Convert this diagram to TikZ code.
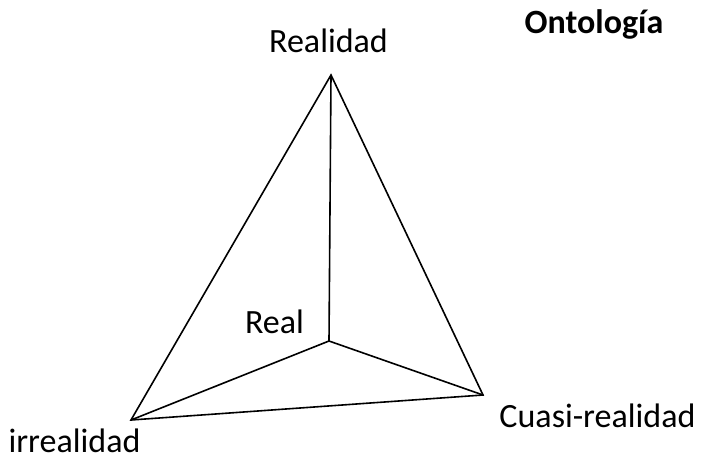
\documentclass[tikz,border=0pt]{standalone}
\usepackage{fontspec}
\setmainfont{Carlito}
\usetikzlibrary{positioning}

\begin{document}
\begin{tikzpicture}[x=1pt, y=-1pt,
  lab/.style={font=\fontsize{34}{40}\selectfont, anchor=base, inner sep=0pt},
  edge/.style={line width=1.6pt, line join=miter}]
\useasboundingbox (0,0) rectangle (701,463);
% corners of the tetrahedron
\coordinate (top) at (331,75);
\coordinate (left) at (131,420);
\coordinate (right) at (483,395);
\coordinate (mid) at (329,341);
% labels
\node[lab] (realidad) at (328.5,52) {Realidad};
\node[lab, font=\fontsize{34}{40}\selectfont\bfseries] (onto) at (594,33) {Ontología};
\node[lab] (real) at (274.5,333) {Real};
\node[lab] (cuasi) at (597.5,427) {Cuasi-realidad};
\node[lab, text depth=0pt] (irreal) at (74.5,452) {irrealidad};
% edges
\draw[edge] (top) -- (left) -- (right) -- cycle;
\draw[edge] (top) -- (mid);
\draw[edge] (left) -- (mid);
\draw[edge] (right) -- (mid);
\end{tikzpicture}
\end{document}
